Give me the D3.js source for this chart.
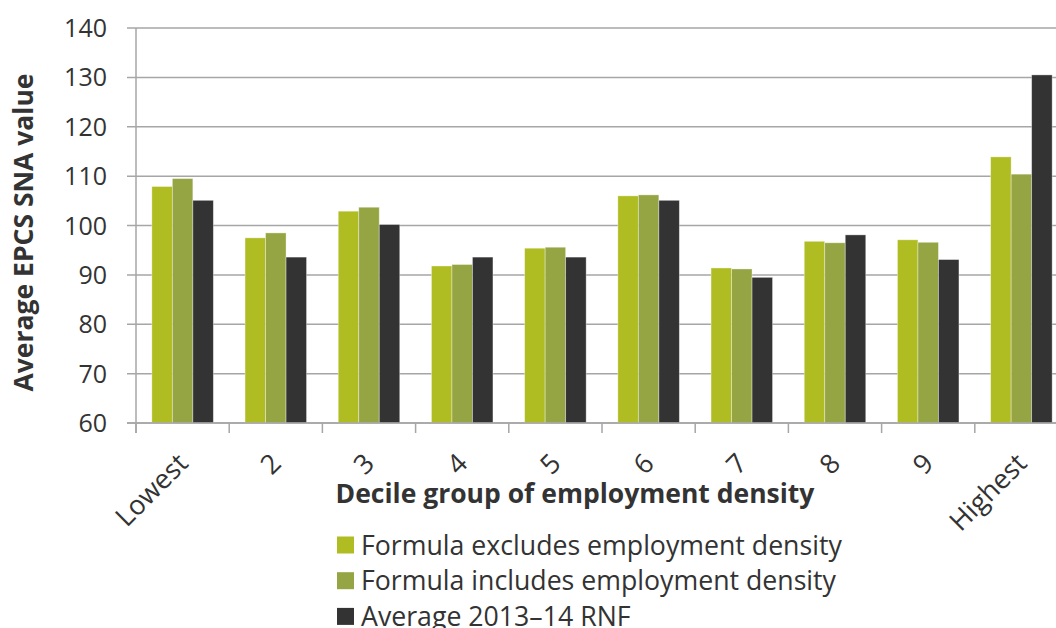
<!DOCTYPE html>
<html>
<head>
<meta charset="utf-8">
<script src="https://cdn.jsdelivr.net/npm/d3@7"></script>
<style>
  body { margin: 0; background: #fff; }
  svg { display: block; font-family: "Open Sans", "Noto Sans", sans-serif; }
</style>
</head>
<body>
<svg id="chart" width="1056" height="628"></svg>
<script>
// decile groups of employment density
const categories = ["Lowest", "2", "3", "4", "5", "6", "7", "8", "9", "Highest"];
const seriesNames = [
  "Formula excludes employment density",
  "Formula includes employment density",
  "Average 2013\u201314 RNF"
];
const excludes = [107.9, 97.5, 102.9, 91.8, 95.4, 106.0, 91.4, 96.8, 97.1, 113.9];
const includes = [109.5, 98.5, 103.7, 92.1, 95.6, 106.2, 91.2, 96.5, 96.6, 110.4];
const rnf = [105.1, 93.6, 100.2, 93.6, 93.6, 105.1, 89.5, 98.1, 93.1, 130.5];
const yTicks = [60, 70, 80, 90, 100, 110, 120, 130, 140];
const colors = ["#afbd22", "#95a543", "#333333"];

const series = [excludes, includes, rnf];

const svg = d3.select("#chart");
const plotLeft = 136, plotRight = 1068, plotTop = 28, plotBottom = 423;

const x = d3.scaleBand().domain(categories).range([plotLeft, plotRight]).paddingInner(0.34).paddingOuter(0.17);
const xGroup = d3.scaleBand().domain(d3.range(series.length)).range([0, x.bandwidth()]);
const y = d3.scaleLinear().domain([60, 140]).range([plotBottom, plotTop]);

// gridlines
svg.append("g")
  .selectAll("line")
  .data(yTicks)
  .join("line")
  .attr("x1", plotLeft - 9)
  .attr("x2", plotRight)
  .attr("y1", d => y(d))
  .attr("y2", d => y(d))
  .attr("stroke", "#a6a6a6")
  .attr("stroke-width", 1.5);

// y tick labels
svg.append("g")
  .selectAll("text")
  .data(yTicks)
  .join("text")
  .attr("x", 107)
  .attr("y", d => y(d))
  .attr("dy", "0.36em")
  .attr("text-anchor", "end")
  .attr("font-size", 25)
  .attr("fill", "#333")
  .text(d => d);

// bars
const groups = svg.append("g")
  .selectAll("g")
  .data(categories)
  .join("g")
  .attr("transform", d => `translate(${x(d)},0)`);

groups.selectAll("rect")
  .data((d, i) => series.map((s, k) => ({ k, v: s[i] })))
  .join("rect")
  .attr("x", d => xGroup(d.k))
  .attr("width", xGroup.bandwidth())
  .attr("y", d => y(d.v))
  .attr("height", d => plotBottom - y(d.v))
  .attr("fill", d => colors[d.k])
  .attr("stroke", "rgba(255,255,255,0.45)")
  .attr("stroke-width", 0.8);

// axis lines
svg.append("line")
  .attr("x1", plotLeft).attr("x2", plotLeft)
  .attr("y1", plotTop).attr("y2", plotBottom + 10)
  .attr("stroke", "#a6a6a6").attr("stroke-width", 1.5);
svg.append("line")
  .attr("x1", plotLeft - 9).attr("x2", plotRight)
  .attr("y1", plotBottom).attr("y2", plotBottom)
  .attr("stroke", "#a6a6a6").attr("stroke-width", 1.5);

// x ticks at band boundaries
const step = x.step();
svg.append("g")
  .selectAll("line")
  .data(d3.range(categories.length + 1))
  .join("line")
  .attr("x1", i => plotLeft + i * step)
  .attr("x2", i => plotLeft + i * step)
  .attr("y1", plotBottom)
  .attr("y2", plotBottom + 10)
  .attr("stroke", "#a6a6a6")
  .attr("stroke-width", 1.5);

// x tick labels, rotated
svg.append("g")
  .selectAll("text")
  .data(categories)
  .join("text")
  .attr("transform", d => `translate(${x(d) + x.bandwidth() / 2 + 7},${plotBottom + 42}) rotate(-45)`)
  .attr("text-anchor", "end")
  .attr("font-size", 27)
  .attr("fill", "#333")
  .text(d => d);

// axis titles
svg.append("text")
  .attr("transform", `translate(33,${(plotTop + plotBottom) / 2 + 7}) rotate(-90)`)
  .attr("text-anchor", "middle")
  .attr("font-size", 26.5)
  .attr("font-weight", "bold")
  .attr("fill", "#333")
  .text("Average EPCS SNA value");

svg.append("text")
  .attr("x", 575)
  .attr("y", 503)
  .attr("text-anchor", "middle")
  .attr("font-size", 26.5)
  .attr("font-weight", "bold")
  .attr("fill", "#333")
  .text("Decile group of employment density");

// legend
const legend = svg.append("g")
  .selectAll("g")
  .data(seriesNames)
  .join("g")
  .attr("transform", (d, i) => `translate(337,${545 + i * 35.7})`);

legend.append("rect")
  .attr("x", 0).attr("y", -8.5)
  .attr("width", 17).attr("height", 17)
  .attr("fill", (d, i) => colors[i]);

legend.append("text")
  .attr("x", 24)
  .attr("dy", "0.36em")
  .attr("font-size", 26.7)
  .attr("fill", "#333")
  .text(d => d);
</script>
</body>
</html>
